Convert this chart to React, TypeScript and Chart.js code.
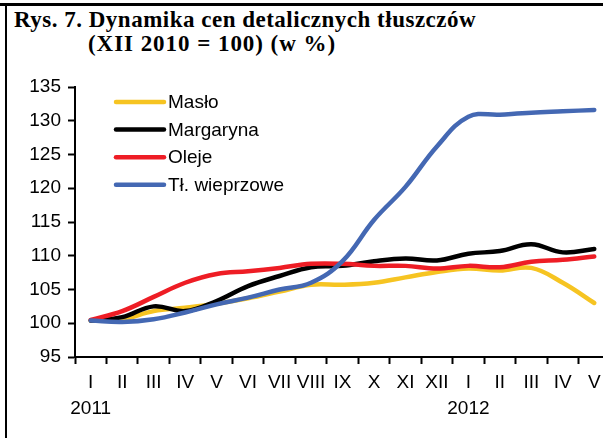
import React, { useEffect, useRef } from "react";
import { Chart, registerables } from "chart.js";

Chart.register(...registerables);

// Months of 2011 and early 2012; the year is written under each January.
const monthLabels: (string | string[])[] = [
  ["I", "2011"], "II", "III", "IV", "V", "VI", "VII", "VIII", "IX", "X", "XI", "XII",
  ["I", "2012"], "II", "III", "IV", "V",
];

// Price indices, XII 2010 = 100
const maslo = [100.4, 100.6, 101.8, 102.3, 102.9, 103.7, 104.7, 105.7, 105.7, 106.0, 106.8, 107.6, 108.1, 107.8, 108.2, 106.0, 103.0];
const margaryna = [100.4, 100.9, 102.5, 101.8, 103.3, 105.5, 107.0, 108.3, 108.5, 109.2, 109.6, 109.3, 110.3, 110.7, 111.7, 110.5, 111.0];
const oleje = [100.5, 101.8, 103.9, 106.0, 107.3, 107.7, 108.2, 108.8, 108.8, 108.5, 108.5, 108.1, 108.5, 108.3, 109.1, 109.4, 109.9];
const tlWieprzowe = [100.4, 100.2, 100.6, 101.6, 102.8, 103.8, 105.0, 106.0, 109.2, 115.3, 120.2, 126.2, 130.6, 130.9, 131.2, 131.4, 131.6];

const yTicks = { min: 95, max: 135, step: 5 };

const seriesNames = ["Masło", "Margaryna", "Oleje", "Tł. wieprzowe"];
const seriesColors = ["#F6C422", "#000000", "#EE1D25", "#4468B3"];

const FONT = "Arial, 'Liberation Sans', sans-serif";
const FONT_SIZE = 19;

// Legend drawn inside the plot area as a column of short line samples.
const innerLegend = {
  id: "innerLegend",
  afterDraw(chart: Chart) {
    const ctx = chart.ctx;
    ctx.save();
    ctx.font = `${FONT_SIZE}px ${FONT}`;
    ctx.textBaseline = "middle";
    ctx.textAlign = "left";
    const x0 = 116;
    const x1 = 164;
    const yStart = 102;
    const rowGap = 27.6;
    seriesNames.forEach((name, i) => {
      const y = yStart + i * rowGap;
      ctx.strokeStyle = seriesColors[i];
      ctx.lineWidth = 4.5;
      ctx.lineCap = "round";
      ctx.beginPath();
      ctx.moveTo(x0, y);
      ctx.lineTo(x1, y);
      ctx.stroke();
      ctx.fillStyle = "#000";
      ctx.fillText(name, x1 + 4, y + 1);
    });
    ctx.restore();
  },
};

export default function App() {
  const canvasRef = useRef<HTMLCanvasElement>(null);

  useEffect(() => {
    if (!canvasRef.current) return;
    const series = [maslo, margaryna, oleje, tlWieprzowe];
    const chart = new Chart(canvasRef.current, {
      type: "line",
      data: {
        labels: monthLabels,
        datasets: series.map((values, i) => ({
          label: seriesNames[i],
          data: values,
          borderColor: seriesColors[i],
          backgroundColor: seriesColors[i],
          borderWidth: 4.5,
          pointRadius: 0,
          tension: 0.4,
          borderCapStyle: "round" as const,
          borderJoinStyle: "round" as const,
          order: 4 - i,
        })),
      },
      options: {
        animation: false,
        responsive: false,
        maintainAspectRatio: false,
        layout: { padding: { top: 87, left: 0, right: 0, bottom: 0 } },
        plugins: {
          legend: { display: false },
          title: { display: false },
          tooltip: { enabled: false },
        },
        scales: {
          x: {
            type: "category",
            offset: true,
            grid: {
              offset: true,
              drawOnChartArea: false,
              drawTicks: true,
              tickLength: 7,
              tickWidth: 2,
              tickColor: "#000",
            },
            border: { color: "#000", width: 2 },
            ticks: {
              color: "#000",
              padding: 6,
              maxRotation: 0,
              autoSkip: false,
              font: { family: FONT, size: FONT_SIZE, lineHeight: 26 / FONT_SIZE },
            },
            afterFit(scale: any) {
              scale.height = 81;
            },
          },
          y: {
            min: yTicks.min,
            max: yTicks.max,
            grid: {
              drawOnChartArea: false,
              drawTicks: true,
              tickLength: 7,
              tickWidth: 2,
              tickColor: "#000",
            },
            border: { color: "#000", width: 2 },
            ticks: {
              stepSize: yTicks.step,
              color: "#000",
              padding: 7,
              font: { family: FONT, size: FONT_SIZE },
            },
            afterFit(scale: any) {
              scale.width = 75;
            },
          },
        },
      },
      plugins: [innerLegend],
    });
    return () => chart.destroy();
  }, []);

  return (
    <div
      style={{
        position: "fixed",
        left: 0,
        top: 0,
        width: 603,
        height: 438,
        overflow: "hidden",
        background: "#fff",
      }}
    >
      <div style={{ position: "absolute", left: 0, top: 3, width: 603, height: 3, background: "#000" }} />
      <div style={{ position: "absolute", left: 5, top: 3, width: 2, height: 435, background: "#000" }} />
      <div
        style={{
          position: "absolute",
          left: 14,
          top: 8,
          fontFamily: "'Times New Roman', 'Liberation Serif', serif",
          fontWeight: "bold",
          fontSize: 23,
          lineHeight: "24px",
          color: "#000",
          whiteSpace: "nowrap",
        }}
      >
        <div style={{ letterSpacing: "0.5px" }}>Rys. 7. Dynamika cen detalicznych tłuszczów</div>
        <div style={{ paddingLeft: 74, letterSpacing: "0.95px" }}>(XII 2010 = 100) (w %)</div>
      </div>
      <canvas
        ref={canvasRef}
        width={610}
        height={438}
        style={{ position: "absolute", left: 0, top: 0, width: 610, height: 438 }}
      />
    </div>
  );
}
